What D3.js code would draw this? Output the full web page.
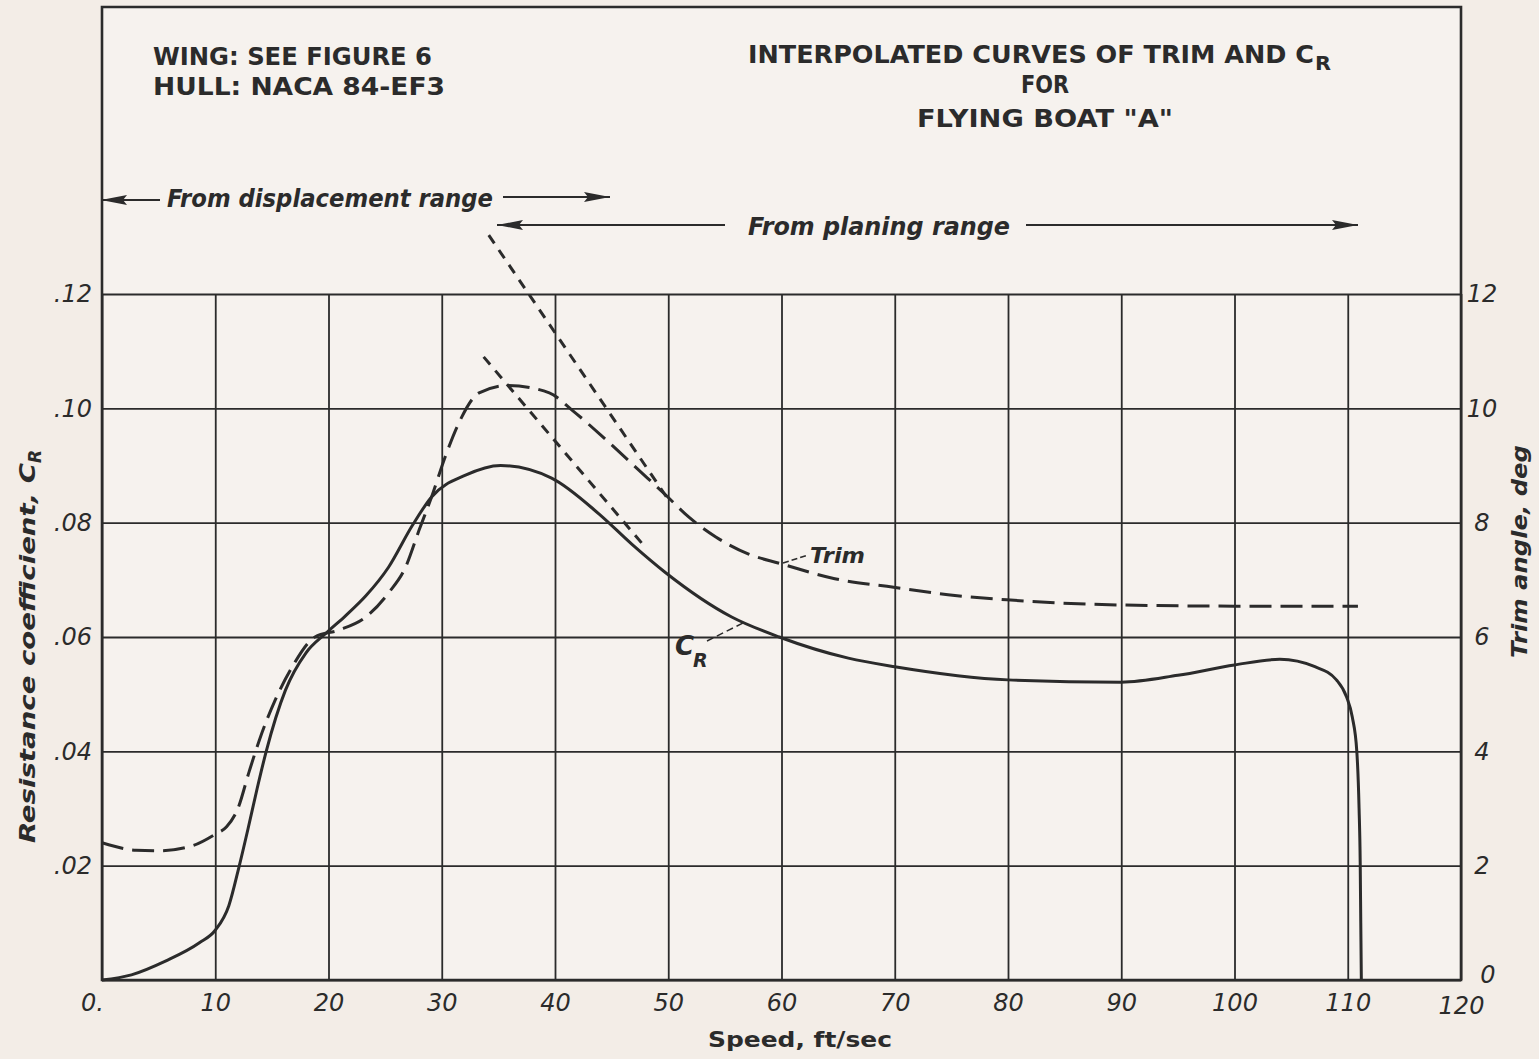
<!DOCTYPE html>
<html>
<head>
<meta charset="utf-8">
<script src="https://cdn.jsdelivr.net/npm/d3@7"></script>
<style>
  body { margin: 0; background: #f3ede7; }
  svg { display: block; }
  text { font-family: "DejaVu Sans", sans-serif; fill: #2b2b2b; }
</style>
</head>
<body>
<div id="chart"></div>
<script>
// axis ticks
const speedTicks = [0, 10, 20, 30, 40, 50, 60, 70, 80, 90, 100, 110, 120];
const speedLabels = ["0.", "10", "20", "30", "40", "50", "60", "70", "80", "90", "100", "110", "120"];
const crTicks = [0, 0.02, 0.04, 0.06, 0.08, 0.10, 0.12];
const crLabels = ["", ".02", ".04", ".06", ".08", ".10", ".12"];
const trimTicks = [0, 2, 4, 6, 8, 10, 12];
const trimLabels = ["0", "2", "4", "6", "8", "10", "12"];

// resistance coefficient C_R (solid)
const crSpeed = [0, 2.6, 5.6, 8.6, 10, 11.2, 12.1, 12.9, 13.7, 14.5, 16.2, 18, 19.8, 21.5, 23.3, 25.3, 27.4, 29.1, 32.1, 35.2, 39.7, 43.9, 46.8, 49.8, 55.6, 59.8, 65.9, 70, 80, 90, 95, 100, 104, 107.1, 109, 109.9, 110.4, 110.8, 111.0, 111.1, 111.15, 111.2];
const crValue = [0, 0.0009, 0.0033, 0.0065, 0.0087, 0.0130, 0.0198, 0.0265, 0.0335, 0.040, 0.0507, 0.0572, 0.0607, 0.0637, 0.0672, 0.0722, 0.0795, 0.0845, 0.0883, 0.090, 0.0878, 0.0815, 0.0762, 0.0712, 0.0635, 0.060, 0.0563, 0.0548, 0.0525, 0.0521, 0.0533, 0.0551, 0.0561, 0.0548, 0.0525, 0.0495, 0.046, 0.040, 0.030, 0.0205, 0.010, 0];

// trim angle, deg (long dashes)
const trimSpeed = [0, 3, 5, 8, 10, 11, 12, 13, 13.9, 15.3, 16.8, 18.8, 20.9, 23.3, 25.3, 26.8, 28, 29.1, 30.3, 31.5, 33.3, 35.9, 39.5, 41.5, 44.5, 47.4, 49.8, 51.8, 54.2, 57.1, 59.8, 64.7, 69.9, 74.7, 79.9, 90, 100, 110.9];
const trimValue = [2.4, 2.27, 2.26, 2.35, 2.55, 2.68, 3.0, 3.65, 4.2, 4.9, 5.48, 6.0, 6.12, 6.35, 6.77, 7.22, 7.87, 8.45, 9.15, 9.74, 10.27, 10.4, 10.27, 9.97, 9.45, 8.92, 8.48, 8.1, 7.75, 7.45, 7.29, 7.02, 6.87, 6.74, 6.65, 6.56, 6.54, 6.54];

// straight extrapolations (short dashes)
const trimExtSpeed = [34.15, 49.85];
const trimExtValue = [13.03, 8.45];
const crExtSpeed = [33.7, 47.8];
const crExtValue = [0.109, 0.0761];

const ink = "#2b2b2b";
const W = 1539, H = 1059;

const x = d3.scaleLinear().domain([0, 120]).range([102, 1461]);
const yCR = d3.scaleLinear().domain([0, 0.12]).range([980, 294]);
const yTrim = d3.scaleLinear().domain([0, 12]).range([980, 294]);

const svg = d3.select("#chart").append("svg")
  .attr("width", W)
  .attr("height", H);

svg.append("rect").attr("width", W).attr("height", H).attr("fill", "#f3ede7");
svg.append("rect")
  .attr("x", x(0)).attr("y", 7)
  .attr("width", x(120) - x(0)).attr("height", yCR(0) - 7)
  .attr("fill", "#f6f2ee");

// grid + labels through axes
const xAxis = svg.append("g")
  .attr("transform", `translate(0,${yCR(0)})`)
  .call(d3.axisBottom(x).tickValues(speedTicks)
    .tickFormat((d, i) => speedLabels[i])
    .tickSize(-(yCR(0) - yCR(0.12))).tickPadding(14));

const yAxisL = svg.append("g")
  .attr("transform", `translate(${x(0)},0)`)
  .call(d3.axisLeft(yCR).tickValues(crTicks)
    .tickFormat((d, i) => crLabels[i])
    .tickSize(-(x(120) - x(0))).tickPadding(10));

const yAxisR = svg.append("g")
  .attr("transform", `translate(${x(120)},0)`)
  .call(d3.axisRight(yTrim).tickValues(trimTicks)
    .tickFormat((d, i) => trimLabels[i])
    .tickSize(0).tickPadding(20));

[xAxis, yAxisL, yAxisR].forEach(g => {
  g.select(".domain").remove();
  g.selectAll("line").attr("stroke", ink).attr("stroke-width", 1.8);
  g.selectAll("text")
    .attr("fill", ink)
    .style("font-family", "DejaVu Sans, sans-serif")
    .style("font-size", "24px")
    .style("font-style", "italic");
});
xAxis.selectAll("text").attr("dy", "0.71em");
xAxis.selectAll(".tick").filter(d => d === 0).select("text").attr("dx", -10);
xAxis.selectAll(".tick").filter(d => d === 120).select("text").attr("dy", "0.85em");
yAxisR.selectAll("text").attr("text-anchor", "middle").attr("x", 21);
yAxisR.selectAll(".tick").filter(d => d === 0).select("text").attr("x", 27).attr("dy", "0.1em");

// frame
svg.append("path")
  .attr("d", `M${x(0)},${yCR(0)}V7H${x(120)}V${yCR(0)}Z`)
  .attr("fill", "none").attr("stroke", ink).attr("stroke-width", 2.6);

// curves
const crLine = d3.line().x(d => x(d[0])).y(d => yCR(d[1])).curve(d3.curveMonotoneX);
const trimLine = d3.line().x(d => x(d[0])).y(d => yTrim(d[1])).curve(d3.curveMonotoneX);
const straightCR = d3.line().x(d => x(d[0])).y(d => yCR(d[1]));
const straightTrim = d3.line().x(d => x(d[0])).y(d => yTrim(d[1]));

svg.append("path")
  .datum(d3.zip(crSpeed, crValue))
  .attr("d", crLine)
  .attr("fill", "none").attr("stroke", ink).attr("stroke-width", 3);

svg.append("path")
  .datum(d3.zip(trimSpeed, trimValue))
  .attr("d", trimLine)
  .attr("fill", "none").attr("stroke", ink).attr("stroke-width", 3)
  .attr("stroke-dasharray", "22,9");

svg.append("path")
  .datum(d3.zip(trimExtSpeed, trimExtValue))
  .attr("d", straightTrim)
  .attr("fill", "none").attr("stroke", ink).attr("stroke-width", 3)
  .attr("stroke-dasharray", "10,8");

svg.append("path")
  .datum(d3.zip(crExtSpeed, crExtValue))
  .attr("d", straightCR)
  .attr("fill", "none").attr("stroke", ink).attr("stroke-width", 3)
  .attr("stroke-dasharray", "10,8");

// text helper
function label(tx, ty, str, size, opts) {
  opts = opts || {};
  const t = svg.append("text")
    .attr("x", tx).attr("y", ty)
    .style("font-size", size + "px")
    .style("font-weight", opts.weight || "bold")
    .style("font-style", opts.italic ? "italic" : "normal")
    .text(str);
  if (opts.len) t.attr("textLength", opts.len).attr("lengthAdjust", "spacingAndGlyphs");
  if (opts.anchor) t.attr("text-anchor", opts.anchor);
  return t;
}

label(153, 65, "WING: SEE FIGURE 6", 25, { len: 279 });
label(153, 95, "HULL: NACA 84-EF3", 25, { len: 292 });
label(748, 63, "INTERPOLATED CURVES OF TRIM AND C", 25, { len: 566 });
label(1315, 70, "R", 19, { len: 16 });
label(1021, 93, "FOR", 25, { len: 48 });
label(917, 127, "FLYING BOAT \"A\"", 25, { len: 256 });

label(167, 207, "From displacement range", 24, { italic: true, len: 326 });
label(748, 235, "From planing range", 24, { italic: true, len: 262 });

// range arrows
function arrow(x1, x2, yy) {
  // x2 is the tip
  svg.append("line").attr("x1", x1).attr("x2", x2).attr("y1", yy).attr("y2", yy)
    .attr("stroke", ink).attr("stroke-width", 2);
  const dir = x2 > x1 ? -1 : 1;
  svg.append("path")
    .attr("d", `M${x2},${yy}L${x2 + dir * 26},${yy - 5}L${x2 + dir * 22},${yy}L${x2 + dir * 26},${yy + 5}Z`)
    .attr("fill", ink);
}
arrow(160, 101, 200);
arrow(503, 610, 197);
arrow(725, 497, 225);
arrow(1026, 1358, 225);

// curve labels and leaders
label(810, 563, "Trim", 22, { italic: true, len: 55 });
svg.append("line").attr("x1", 783).attr("y1", 563).attr("x2", 808).attr("y2", 555)
  .attr("stroke", ink).attr("stroke-width", 1.5).attr("stroke-dasharray", "6,3");

label(675, 655, "C", 26, { italic: true });
label(693, 667, "R", 19, { italic: true });
svg.append("line").attr("x1", 707).attr("y1", 641).attr("x2", 743).attr("y2", 623)
  .attr("stroke", ink).attr("stroke-width", 1.5).attr("stroke-dasharray", "7,4");

// axis titles
const lt = svg.append("text")
  .attr("transform", "translate(35,843) rotate(-90)")
  .style("font-size", "22px").style("font-weight", "bold").style("font-style", "italic");
lt.append("tspan").text("Resistance coefficient, C")
  .attr("textLength", 380).attr("lengthAdjust", "spacingAndGlyphs");
lt.append("tspan").text("R").attr("dy", 6).style("font-size", "17px");

svg.append("text")
  .attr("transform", "translate(1527,658) rotate(-90)")
  .attr("textLength", 213).attr("lengthAdjust", "spacingAndGlyphs")
  .style("font-size", "22px").style("font-weight", "bold").style("font-style", "italic")
  .text("Trim angle, deg");

label(800, 1047, "Speed, ft/sec", 21, { italic: false, anchor: "middle", len: 184 });
</script>
</body>
</html>
